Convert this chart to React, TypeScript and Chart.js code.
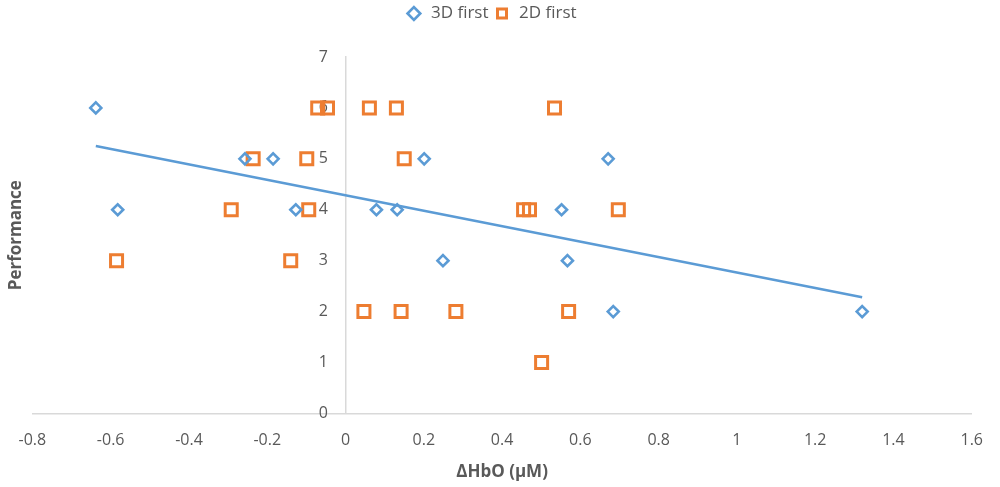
import { useEffect, useRef } from 'react';
import Chart from 'chart.js/auto';

const seriesNames = ['3D first', '2D first'];

// 3D first (blue diamonds)
const first3dX = [-0.638, -0.582, -0.257, -0.185, -0.127, 0.079, 0.132, 0.201, 0.249, 0.552, 0.567, 0.671, 0.684, 1.32];
const first3dY = [6, 4, 5, 5, 4, 4, 4, 5, 3, 4, 3, 5, 2, 2];

// 2D first (orange squares)
const first2dX = [-0.071, -0.046, 0.061, 0.13, 0.534, -0.236, -0.099, 0.15, -0.292, -0.094, 0.455, 0.47, 0.697, -0.585, -0.14, 0.047, 0.142, 0.282, 0.57, 0.501];
const first2dY = [6, 6, 6, 6, 6, 5, 5, 5, 4, 4, 4, 4, 4, 3, 3, 2, 2, 2, 2, 1];

// linear trendline of the 3D first series, read at its two ends
const trendX = [-0.638, 1.32];
const trendY = [5.25, 2.28];

const xTickValues = [-0.8, -0.6, -0.4, -0.2, 0, 0.2, 0.4, 0.6, 0.8, 1, 1.2, 1.4, 1.6];
const yTickValues = [0, 1, 2, 3, 4, 5, 6, 7];

const BLUE = '#5b9bd5';
const ORANGE = '#ed7d31';
const TEXT = '#595959';
const AXIS = '#d9d9d9';
const FONT = "'Open Sans', 'Noto Sans', sans-serif";

const toPoints = (xs: number[], ys: number[]) => xs.map((x, i) => ({ x, y: ys[i] }));

export default function App() {
  const canvasRef = useRef<HTMLCanvasElement | null>(null);

  useEffect(() => {
    const canvas = canvasRef.current;
    if (!canvas) return;

    const chart = new Chart(canvas, {
      type: 'scatter',
      data: {
        datasets: [
          {
            label: seriesNames[0],
            data: toPoints(first3dX, first3dY),
            pointStyle: 'rectRot',
            pointRadius: 5.5,
            pointBorderWidth: 2.6,
            borderColor: BLUE,
            backgroundColor: 'rgba(255,255,255,0)',
            order: 2,
          },
          {
            label: seriesNames[1],
            data: toPoints(first2dX, first2dY),
            pointStyle: 'rect',
            pointRadius: 8.5,
            pointBorderWidth: 3,
            borderColor: ORANGE,
            backgroundColor: 'rgba(255,255,255,0)',
            order: 3,
          },
          {
            label: 'trend',
            data: toPoints(trendX, trendY),
            showLine: true,
            pointRadius: 0,
            borderColor: BLUE,
            borderWidth: 2.5,
            order: 1,
          },
        ],
      },
      options: {
        animation: false,
        responsive: true,
        maintainAspectRatio: false,
        layout: { padding: { left: 6, right: 24, top: 0, bottom: 0 } },
        plugins: {
          tooltip: { enabled: false },
          legend: {
            position: 'top',
            labels: {
              usePointStyle: true,
              boxHeight: 9,
              padding: 5,
              color: TEXT,
              font: { family: FONT, size: 17 },
              filter: (item) => item.text !== 'trend',
            },
          },
        },
        scales: {
          x: {
            type: 'linear',
            min: -0.8,
            max: 1.6,
            afterBuildTicks: (axis) => {
              axis.ticks = xTickValues.map((v) => ({ value: v }));
            },
            grid: { display: false, drawTicks: false },
            border: { display: true, color: AXIS, width: 1.5 },
            ticks: {
              padding: 17,
              color: TEXT,
              font: { family: FONT, size: 16 },
              maxRotation: 0,
              callback: (v) => String(Math.round(Number(v) * 10) / 10),
            },
            title: {
              display: true,
              text: 'ΔHbO (µM)',
              color: TEXT,
              font: { family: FONT, size: 17, weight: 'bold' },
              padding: { top: -5, bottom: 5 },
            },
          },
          // the value axis line sits at x = 0
          y: {
            type: 'linear',
            min: 0,
            max: 7,
            position: { x: 0 },
            afterBuildTicks: (axis) => {
              axis.ticks = yTickValues.map((v) => ({ value: v }));
            },
            grid: { display: false, drawTicks: false },
            border: { display: true, color: AXIS, width: 1.5 },
            ticks: { display: false },
          },
          // its labels, set a little to the left of the line
          yLabels: {
            type: 'linear',
            axis: 'y',
            min: 0,
            max: 7,
            position: { x: -0.045 },
            afterBuildTicks: (axis) => {
              axis.ticks = yTickValues.map((v) => ({ value: v }));
            },
            grid: { display: false, drawTicks: false },
            border: { display: false },
            ticks: {
              color: TEXT,
              font: { family: FONT, size: 16 },
            },
          },
          // spacer axes: one carries the y title on the left, one keeps room under the legend
          yTitle: {
            type: 'linear',
            axis: 'y',
            position: 'left',
            grid: { display: false, drawTicks: false },
            border: { display: false },
            ticks: { display: false },
            title: {
              display: true,
              text: 'Performance',
              color: TEXT,
              font: { family: FONT, size: 17, weight: 'bold' },
              padding: { top: 0, bottom: 6 },
            },
          },
          xTop: {
            type: 'linear',
            axis: 'x',
            position: 'top',
            grid: { display: false, drawTicks: false },
            border: { display: false },
            ticks: { display: false },
            afterFit: (axis) => {
              axis.height = 25;
            },
          },
        },
      },
    });

    return () => chart.destroy();
  }, []);

  return (
    <div style={{ position: 'fixed', left: 0, top: 0, width: 1000, height: 487, background: '#ffffff' }}>
      <canvas ref={canvasRef} />
    </div>
  );
}
